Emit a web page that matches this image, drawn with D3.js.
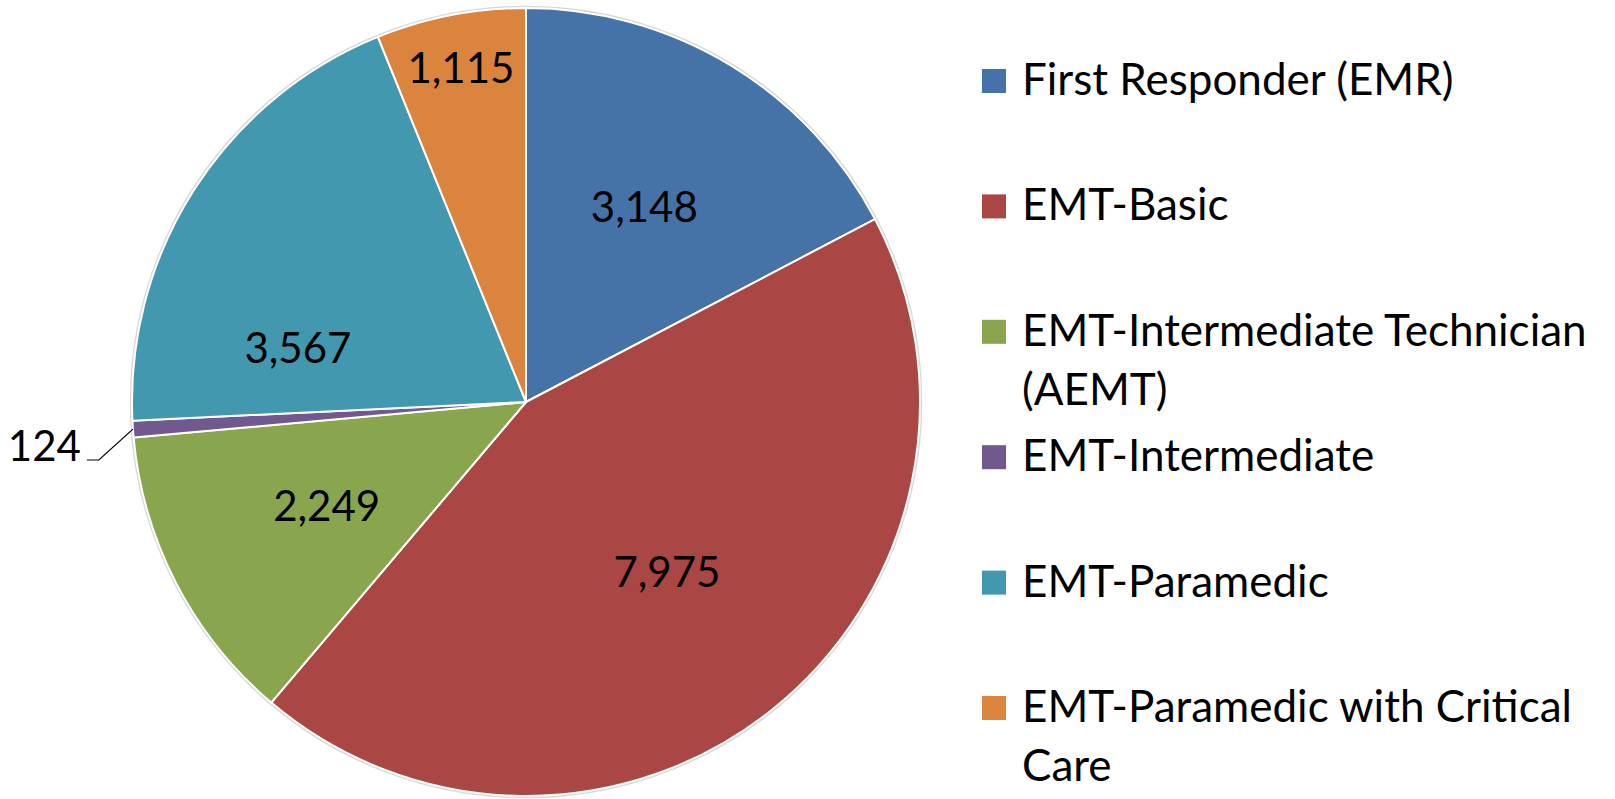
<!DOCTYPE html>
<html>
<head>
<meta charset="utf-8">
<script src="https://cdn.jsdelivr.net/npm/d3@7"></script>
<style>
  html, body { margin: 0; padding: 0; background: #fff; }
  svg { display: block; font-family: Lato, 'Open Sans', sans-serif; }
</style>
</head>
<body>
<svg id="chart" width="1615" height="799"></svg>
<script>
'use strict';
const CATEGORIES = [
  'First Responder (EMR)',
  'EMT-Basic',
  'EMT-Intermediate Technician (AEMT)',
  'EMT-Intermediate',
  'EMT-Paramedic',
  'EMT-Paramedic with Critical Care',
];
const VALUES = [3148, 7975, 2249, 124, 3567, 1115];
const COLORS = ['#4572a7', '#aa4643', '#89a54e', '#71588f', '#4198af', '#db843d'];

// label placement: fraction of radius and angle nudge (degrees), like Excel's best fit
const LABEL_LAYOUT = [
  { k: 0.58, da: 0 },
  { k: 0.56, da: -1 },
  { k: 0.57, da: 0 },
  { outside: true },
  { k: 0.595, da: -19.3 },
  { k: 0.863, da: 0 },
];

const cx = 526, cy = 402, radius = 394;
const LABEL_SIZE = 42;
const LEGEND_SIZE = 44;

const svg = d3.select('#chart');
const fmt = d3.format(',');

const pie = d3.pie().sort(null).value((d) => d.value);
const arcs = pie(CATEGORIES.map((c, i) => ({ name: c, value: VALUES[i], color: COLORS[i] })));
const arc = d3.arc().innerRadius(0).outerRadius(radius);

const g = svg.append('g').attr('transform', `translate(${cx},${cy})`);

// soft outer edge
g.append('circle')
  .attr('r', radius + 1)
  .attr('fill', 'none')
  .attr('stroke', '#c8c8c8')
  .attr('stroke-width', 2.5)
  .attr('opacity', 0.7);

g.selectAll('path.slice')
  .data(arcs)
  .enter()
  .append('path')
  .attr('class', 'slice')
  .attr('d', arc)
  .attr('fill', (d) => d.data.color)
  .attr('stroke', '#fff')
  .attr('stroke-width', 2)
  .attr('stroke-linejoin', 'round');

// data labels
function polar(angle, r) {
  return [Math.sin(angle) * r, -Math.cos(angle) * r];
}

arcs.forEach((d, i) => {
  const lay = LABEL_LAYOUT[i];
  const mid = (d.startAngle + d.endAngle) / 2;
  if (lay.outside) {
    const p0 = polar(mid, radius * 1.0);
    const p1 = polar(mid - 0.066, radius * 1.094);
    const p2 = [p1[0] - 12, p1[1]];
    g.append('polyline')
      .attr('points', [p0, p1, p2].map((p) => p.join(',')).join(' '))
      .attr('fill', 'none')
      .attr('stroke', '#000')
      .attr('stroke-width', 1.2);
    g.append('text')
      .attr('x', p2[0] - 6)
      .attr('y', p2[1] + 1)
      .attr('text-anchor', 'end')
      .attr('font-size', LABEL_SIZE)
      .attr('fill', '#000')
      .text(fmt(d.data.value));
    return;
  }
  const p = polar(mid + (lay.da * Math.PI) / 180, radius * lay.k);
  g.append('text')
    .attr('x', p[0])
    .attr('y', p[1])
    .attr('dy', '0.36em')
    .attr('text-anchor', 'middle')
    .attr('font-size', LABEL_SIZE)
    .attr('fill', '#000')
    .text(fmt(d.data.value));
});

// legend
const legendX = 982, legendTop = 95, rowStep = 125.4, lineStep = 59, maxTextW = 600;
const textX = legendX + 40;
const legend = svg.append('g').attr('class', 'legend');

CATEGORIES.forEach((name, i) => {
  const base = legendTop + i * rowStep;
  legend.append('rect')
    .attr('x', legendX)
    .attr('y', base - 26)
    .attr('width', 24)
    .attr('height', 24)
    .attr('fill', COLORS[i]);

  const text = legend.append('text')
    .attr('x', textX)
    .attr('y', base)
    .attr('font-size', LEGEND_SIZE)
    .attr('fill', '#000');

  // simple word wrap
  const words = name.split(' ');
  let line = [];
  let lineNo = 0;
  let tspan = text.append('tspan').attr('x', textX).attr('y', base);
  words.forEach((w) => {
    line.push(w);
    tspan.text(line.join(' '));
    if (tspan.node().getComputedTextLength() > maxTextW && line.length > 1) {
      line.pop();
      tspan.text(line.join(' '));
      line = [w];
      lineNo++;
      tspan = text.append('tspan')
        .attr('x', textX)
        .attr('y', base + lineNo * lineStep)
        .text(w);
    }
  });
});
</script>
</body>
</html>
